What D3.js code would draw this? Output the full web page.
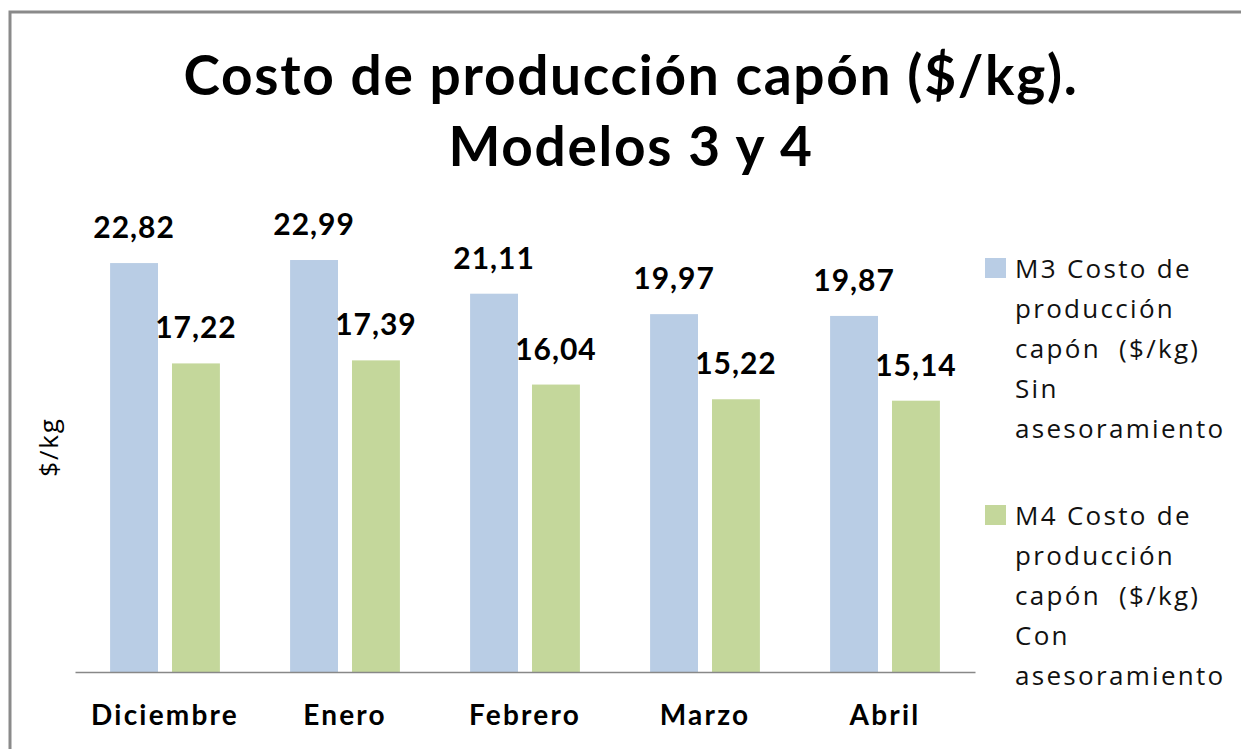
<!DOCTYPE html>
<html>
<head>
<meta charset="utf-8">
<script src="https://cdn.jsdelivr.net/npm/d3@7"></script>
<style>
  body { margin: 0; background: #fff; }
  svg { display: block; font-family: Lato, "Open Sans", sans-serif; }
</style>
</head>
<body>
<svg id="chart" width="1241" height="749"></svg>
<script>
// data
const categories = ['Diciembre', 'Enero', 'Febrero', 'Marzo', 'Abril']
const seriesNames = ['M3', 'M4']
const m3Values = [22.82, 22.99, 21.11, 19.97, 19.87]
const m4Values = [17.22, 17.39, 16.04, 15.22, 15.14]
const legendLines = [
    ['M3 Costo de', 'producción', 'capón  ($/kg)', 'Sin', 'asesoramiento'],
    ['M4 Costo de', 'producción', 'capón  ($/kg)', 'Con', 'asesoramiento']
]
const titleLines = ['Costo de producción capón ($/kg).', 'Modelos 3 y 4']

const colors = ['#B9CDE5', '#C4D79B']
const values = [m3Values, m4Values]

let svg = d3.select('#chart')

// outer frame (runs off the right and bottom edge)
svg.append('rect')
    .attr('x', 10).attr('y', 12)
    .attr('width', 1260).attr('height', 760)
    .attr('fill', 'none')
    .attr('stroke', '#8a8a8a')
    .attr('stroke-width', 3)

// title
svg.append('g').selectAll('text')
    .data(titleLines)
    .enter().append('text')
    .attr('x', 631)
    .attr('y', (d, i) => 95 + i * 71)
    .attr('text-anchor', 'middle')
    .attr('font-size', 55)
    .attr('font-weight', 700)
    .attr('letter-spacing', 1.7)
    .attr('fill', '#000')
    .text(d => d)

// scales
let baseY = 672
let y = d3.scaleLinear().domain([0, 25]).range([baseY, baseY - 25 * 17.92])

let x0 = d3.scaleBand()
    .domain(categories)
    .range([75, 975])
    .paddingInner(0.39)
    .paddingOuter(0.195)

let x1 = d3.scaleBand()
    .domain(seriesNames)
    .range([0, x0.bandwidth()])
    .paddingInner(0.226)

// bars
let groups = svg.append('g').selectAll('g.cat')
    .data(categories)
    .enter().append('g')
    .attr('class', 'cat')
    .attr('transform', d => 'translate(' + x0(d) + ',0)')

groups.selectAll('rect')
    .data((d, i) => seriesNames.map((s, j) => ({ s: s, v: values[j][i], c: colors[j] })))
    .enter().append('rect')
    .attr('x', d => x1(d.s))
    .attr('y', d => y(d.v))
    .attr('width', x1.bandwidth())
    .attr('height', d => baseY - y(d.v))
    .attr('fill', d => d.c)

// value labels
groups.selectAll('text.val')
    .data((d, i) => seriesNames.map((s, j) => ({ s: s, v: values[j][i] })))
    .enter().append('text')
    .attr('class', 'val')
    .attr('x', d => x1(d.s) + x1.bandwidth() / 2)
    .attr('y', d => y(d.v) - 25)
    .attr('text-anchor', 'middle')
    .attr('font-size', 30)
    .attr('font-weight', 700)
    .attr('letter-spacing', 1)
    .text(d => d3.format('.2f')(d.v).replace('.', ','))

// x axis
let xAxis = svg.append('g')
    .attr('transform', 'translate(0,' + baseY + ')')
    .call(d3.axisBottom(x0).tickSize(0).tickPadding(53))
xAxis.select('.domain').attr('stroke', '#888').attr('stroke-width', 1.5)
xAxis.selectAll('text')
    .attr('font-family', 'Lato, sans-serif')
    .attr('font-size', 28)
    .attr('font-weight', 700)
    .attr('letter-spacing', 2.2)
    .attr('fill', '#000')
    .attr('dy', 0)

// y axis title
svg.append('text')
    .attr('transform', 'translate(58,447) rotate(-90)')
    .attr('text-anchor', 'middle')
    .attr('font-family', '"Open Sans", sans-serif')
    .attr('font-size', 26)
    .attr('letter-spacing', 1.8)
    .attr('fill', '#000')
    .text('$/kg')

// legend
let legend = svg.append('g').selectAll('g')
    .data(legendLines)
    .enter().append('g')
    .attr('transform', (d, i) => 'translate(985,' + (258 + i * 247) + ')')

legend.append('rect')
    .attr('width', 21).attr('height', 20)
    .attr('fill', (d, i) => colors[i])

legend.selectAll('text')
    .data(d => d)
    .enter().append('text')
    .attr('x', 30)
    .attr('y', (d, i) => 20 + i * 40)
    .attr('font-family', '"Open Sans", sans-serif')
    .attr('font-size', 26)
    .attr('letter-spacing', 2.3)
    .attr('fill', '#111')
    .style('white-space', 'pre')
    .text(d => d)
</script>
</body>
</html>
